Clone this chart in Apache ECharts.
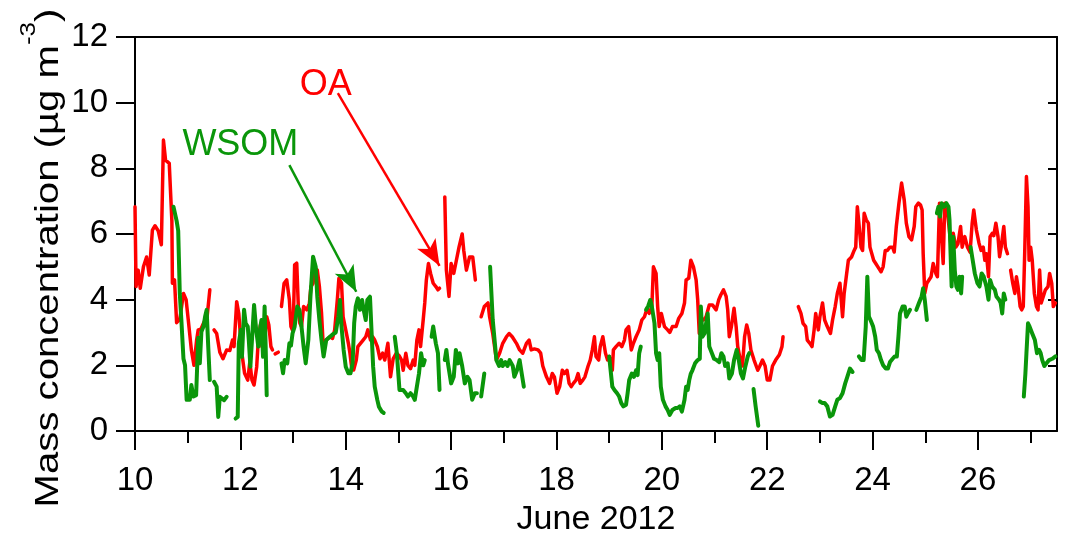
<!DOCTYPE html>
<html>
<head>
<meta charset="utf-8">
<script src="https://cdn.jsdelivr.net/npm/echarts@6/dist/echarts.min.js"></script>
<style>html,body{margin:0;padding:0;background:#fff;}#c{width:1065px;height:536px;}</style>
</head>
<body>
<div id="c"></div>
<script>
// ---- data (day of June 2012, mass concentration µg m-3); null = gap ----
const oaData = [
[10.00,6.83],[10.02,4.4],[10.06,4.9],[10.10,4.35],[10.16,5.0],[10.22,5.3],[10.27,4.75],[10.33,6.12],[10.38,6.25],[10.44,6.1],[10.50,5.67],[10.54,8.86],[10.58,8.25],[10.61,8.2],[10.65,8.15],[10.70,6.4],[10.71,4.5],[10.75,4.6],[10.79,3.3],[10.85,3.4],[10.92,4.19],[10.97,4.0],[11.01,3.4],[11.07,2.47],[11.12,2.0],[11.17,2.77],[11.20,3.08],[11.25,3.1],[11.30,3.28],[11.37,3.5],[11.42,4.3],null,
[11.50,3.08],[11.55,2.97],[11.61,2.4],[11.67,2.2],[11.74,2.47],[11.80,2.45],[11.85,2.77],[11.88,2.57],[11.93,3.94],[11.97,3.58],[12.02,2.47],[12.08,1.76],[12.14,1.55],[12.18,2.11],[12.22,1.55],[12.26,1.4],[12.31,1.96],[12.34,2.77],[12.38,3.23],[12.41,2.57],[12.45,2.6],[12.50,3.48],[12.54,3.23],[12.58,2.57],[12.61,2.47],null,
[12.66,2.35],[12.72,2.4],null,
[12.78,3.79],[12.83,4.5],[12.88,4.6],[12.93,4.0],[12.96,3.18],[12.99,3.07],[13.01,3.58],[13.03,5.06],[13.07,5.11],[13.10,3.79],[13.13,3.28],[13.16,3.18],[13.20,3.79],[13.26,3.69],[13.31,3.89],[13.34,4.4],[13.38,4.5],[13.41,4.97],[13.46,4.9],[13.50,4.4],[13.54,3.6],[13.57,2.67],[13.63,2.77],[13.70,2.87],[13.75,2.82],[13.79,3.08],[13.84,3.99],[13.87,4.65],[13.92,4.5],[13.95,3.48],[14.00,3.08],[14.05,2.67],[14.08,2.37],[14.11,1.96],[14.15,1.86],[14.20,2.16],[14.23,2.57],[14.28,2.67],[14.33,2.77],[14.38,2.87],[14.42,3.08],[14.47,2.77],[14.51,2.87],[14.55,2.77],[14.60,2.57],[14.65,2.2],[14.70,2.37],[14.74,2.16],[14.80,2.67],[14.85,1.65],[14.90,2.2],[14.96,2.37],[15.01,2.3],[15.06,2.16],[15.09,1.85],[15.14,2.37],[15.18,2.0],[15.23,1.9],[15.28,2.16],[15.31,2.0],[15.35,2.77],[15.39,3.08],[15.42,2.57],[15.47,3.38],[15.50,3.9],[15.53,4.6],[15.57,5.1],[15.61,4.8],[15.66,4.5],[15.71,4.4],[15.75,4.3],[15.78,4.35],null,
[15.88,7.13],[15.91,4.9],[15.96,4.1],[16.00,5.1],[16.05,4.8],[16.10,5.2],[16.15,5.6],[16.21,6.0],[16.24,5.5],[16.29,4.9],[16.35,5.3],[16.41,5.3],[16.46,4.6],null,
[16.57,3.48],[16.63,3.79],[16.70,3.9],[16.73,3.48],[16.79,2.97],[16.86,2.16],[16.92,2.37],[16.98,2.67],[17.05,2.87],[17.10,2.97],[17.16,2.87],[17.24,2.67],[17.30,2.47],[17.36,2.37],[17.43,2.67],[17.48,2.77],[17.52,2.47],[17.58,2.5],[17.65,2.47],[17.70,2.37],[17.74,1.98],[17.81,1.65],[17.87,1.45],[17.92,1.75],[17.96,1.65],[18.01,1.15],[18.06,1.35],[18.11,1.85],[18.15,1.75],[18.20,1.85],[18.24,1.45],[18.28,1.35],[18.32,1.45],[18.37,1.55],[18.41,1.75],[18.45,1.45],[18.50,1.55],[18.54,1.65],[18.60,1.98],[18.64,2.16],[18.68,2.47],[18.72,2.87],[18.75,2.27],[18.80,2.16],[18.83,2.57],[18.88,2.87],[18.93,2.37],[18.97,2.16],[19.00,2.27],[19.06,1.85],[19.08,2.47],[19.13,2.57],[19.19,2.67],[19.24,2.57],[19.29,2.77],[19.32,3.08],[19.37,3.18],[19.42,2.47],[19.46,2.67],[19.51,2.87],[19.57,3.08],[19.62,3.38],[19.67,3.48],[19.72,3.74],[19.76,3.58],[19.81,3.79],[19.84,5.0],[19.89,4.8],[19.92,3.79],[19.95,3.18],[19.99,3.58],[20.05,3.18],[20.11,3.08],[20.15,3.0],[20.20,3.18],[20.27,3.18],[20.32,3.43],[20.38,3.58],[20.43,3.9],[20.46,4.6],[20.51,4.65],[20.55,5.2],[20.60,5.0],[20.65,4.6],[20.68,4.0],[20.71,2.97],[20.74,3.38],[20.79,3.38],[20.84,3.48],[20.90,3.84],[20.96,3.84],[21.03,3.69],[21.08,4.0],[21.12,4.15],[21.17,4.3],[21.22,4.1],[21.25,3.69],[21.28,2.87],[21.32,3.18],[21.37,3.74],[21.41,3.18],[21.44,2.57],[21.49,2.16],[21.53,1.98],[21.57,2.87],[21.61,3.23],[21.65,2.97],[21.69,2.47],[21.75,2.16],[21.82,1.85],[21.86,1.98],[21.91,2.16],[21.96,1.98],[22.00,1.55],[22.05,1.55],[22.10,1.98],[22.16,2.16],[22.23,2.32],[22.28,2.57],[22.30,2.87],null,
[22.59,3.79],[22.64,3.58],[22.68,3.28],[22.73,3.18],[22.76,2.77],[22.81,2.67],[22.85,2.57],[22.89,3.08],[22.92,3.58],[22.97,3.08],[23.00,3.48],[23.05,3.9],[23.09,3.38],[23.14,3.18],[23.20,2.97],[23.24,3.38],[23.29,3.79],[23.33,4.19],[23.38,4.5],[23.43,3.48],[23.46,4.19],[23.50,4.7],[23.54,5.2],[23.60,5.3],[23.65,5.5],[23.68,5.6],[23.71,6.83],[23.74,6.33],[23.78,5.6],[23.81,5.5],[23.84,6.63],[23.88,6.43],[23.92,6.33],[23.95,5.6],[23.98,5.6],[24.02,5.2],[24.06,5.1],[24.10,5.0],[24.16,4.85],[24.20,5.0],[24.24,5.5],[24.28,5.5],[24.33,5.6],[24.38,5.6],[24.41,5.45],[24.45,6.23],[24.50,6.94],[24.55,7.55],[24.60,7.04],[24.64,6.33],[24.69,5.92],[24.74,5.82],[24.79,6.23],[24.82,6.83],[24.87,6.94],[24.91,6.88],[24.94,6.73],[24.96,5.4],[24.99,4.19],[25.03,4.5],[25.07,4.6],[25.11,4.7],[25.15,5.1],[25.20,4.8],[25.23,4.7],[25.27,6.94],[25.30,6.94],[25.34,5.1],[25.37,6.94],[25.41,6.83],[25.45,6.23],[25.49,5.6],[25.53,6.02],[25.58,5.6],[25.62,5.7],[25.67,6.23],[25.70,5.6],[25.75,5.92],[25.80,5.6],[25.85,5.45],[25.89,6.33],[25.92,6.73],[25.97,6.12],[26.02,5.72],[26.06,5.5],[26.10,5.6],[26.13,5.2],[26.16,5.4],[26.20,4.7],[26.23,5.92],[26.27,6.02],[26.30,5.95],[26.34,6.33],[26.38,5.92],[26.41,5.31],[26.44,5.6],[26.49,6.23],[26.52,5.6],[26.56,5.4],null,
[26.62,4.9],[26.66,4.5],[26.70,4.19],[26.73,4.7],[26.76,4.4],[26.80,3.79],[26.83,3.69],[26.86,3.79],[26.89,5.6],[26.92,7.75],[26.95,6.83],[26.97,5.2],[27.00,5.6],[27.03,5.2],[27.07,4.19],[27.11,3.79],[27.14,3.69],[27.17,4.9],[27.20,3.9],[27.24,4.1],[27.28,4.3],[27.33,4.4],[27.36,4.8],[27.40,4.5],[27.43,3.79],[27.47,3.9]
];
const wsomData = [
[10.73,6.83],[10.79,6.4],[10.82,6.1],[10.85,4.19],[10.88,3.38],[10.92,2.2],[10.95,2.0],[10.98,0.95],[11.04,0.95],[11.07,1.4],[11.11,1.05],[11.16,1.09],[11.20,2.84],[11.23,2.06],[11.26,3.02],[11.30,3.18],[11.33,3.48],[11.36,3.69],[11.39,2.57],[11.42,1.55],null,
[11.50,1.5],[11.55,1.35],[11.58,0.43],[11.61,1.04],[11.64,0.99],[11.69,0.94],[11.74,1.04],null,
[11.91,0.38],[11.95,0.43],[11.97,2.67],[12.01,3.08],[12.03,2.26],[12.07,3.69],[12.10,3.28],[12.14,3.18],[12.16,2.77],[12.19,1.96],[12.22,2.77],[12.26,3.84],[12.30,3.08],[12.34,2.57],[12.38,3.18],[12.40,3.38],[12.43,2.26],[12.46,3.79],[12.48,2.57],[12.50,1.09],null,
[12.78,2.06],[12.81,1.76],[12.84,2.16],[12.89,2.06],[12.93,2.67],[12.96,2.6],[12.99,2.97],[13.03,3.18],[13.08,3.79],[13.12,3.69],[13.16,3.18],[13.20,2.57],[13.24,2.06],[13.29,2.77],[13.33,4.09],[13.38,5.31],[13.43,5.0],[13.46,4.09],[13.50,3.38],[13.54,2.77],[13.58,2.27],[13.63,2.77],[13.70,2.87],[13.76,2.95],[13.81,3.0],[13.86,3.48],[13.89,3.99],[13.92,3.18],[13.96,2.47],[14.00,1.96],[14.05,1.76],[14.09,1.76],[14.13,2.06],[14.16,3.28],[14.19,3.79],[14.23,4.04],[14.27,3.69],[14.31,3.99],[14.34,3.69],[14.38,3.38],[14.41,3.99],[14.46,4.09],[14.49,4.09],[14.52,1.96],[14.55,1.35],[14.60,0.94],[14.63,0.74],[14.68,0.6],[14.72,0.55],null,
[14.93,2.87],[14.97,2.37],[15.02,1.25],[15.09,1.25],[15.14,1.15],[15.18,1.05],[15.23,1.15],[15.28,1.05],[15.31,0.95],[15.35,1.35],[15.39,1.75],[15.43,2.37],[15.47,2.0],[15.50,2.16],null,
[15.63,2.87],[15.66,3.18],[15.71,2.67],[15.75,2.37],[15.78,1.25],null,
[15.88,2.16],[15.91,2.47],[15.94,2.06],[16.00,1.45],[16.05,1.65],[16.09,2.47],[16.13,2.06],[16.16,2.37],[16.21,1.98],[16.26,1.45],[16.31,1.65],[16.35,1.55],[16.40,0.95],[16.45,1.15],[16.49,1.15],null,
[16.57,1.05],[16.63,1.75],null,
[16.74,5.0],[16.79,3.38],[16.86,2.16],[16.91,1.98],[16.95,2.16],[16.98,1.98],[17.03,2.1],[17.07,1.98],[17.11,2.16],[17.17,1.98],[17.20,1.65],[17.25,1.85],[17.30,2.16],[17.34,1.75],[17.38,1.35],null,
[19.00,2.27],[19.06,1.35],[19.10,1.25],[19.15,1.15],[19.19,1.05],[19.23,0.85],[19.27,0.75],[19.32,0.8],[19.35,1.15],[19.38,1.55],[19.43,1.75],[19.47,1.65],[19.51,1.85],[19.54,1.7],[19.57,2.37],[19.60,2.57],null,
[19.70,3.69],[19.74,3.8],[19.78,3.99],[19.81,3.79],[19.86,3.28],[19.89,2.37],[19.92,2.16],[19.95,2.37],[19.98,1.35],[20.02,0.95],[20.07,0.75],[20.11,0.64],[20.15,0.49],[20.20,0.64],[20.26,0.7],[20.30,0.7],[20.34,0.75],[20.38,0.59],[20.43,0.95],[20.46,1.35],[20.49,1.25],[20.52,1.55],[20.55,1.75],[20.58,1.85],[20.63,2.06],[20.68,2.16],[20.72,2.2],[20.74,3.79],[20.77,2.87],[20.81,2.97],[20.84,3.28],[20.87,3.58],[20.90,2.57],[20.95,2.37],[20.99,2.2],[21.04,2.16],[21.09,2.1],[21.13,2.37],[21.17,2.27],[21.20,1.98],[21.25,2.06],[21.28,1.6],[21.33,1.75],[21.37,2.16],[21.42,2.47],[21.46,2.16],[21.50,1.75],[21.54,1.6],[21.58,1.93],[21.63,2.27],[21.66,2.37],null,
[21.74,1.28],[21.78,0.75],[21.83,0.16],null,
[23.00,0.9],[23.05,0.85],[23.09,0.85],[23.14,0.75],[23.19,0.44],[23.24,0.49],[23.29,0.75],[23.33,0.95],[23.38,1.0],[23.43,1.15],[23.48,1.45],[23.52,1.65],[23.57,1.9],[23.62,1.8],null,
[23.74,2.27],[23.79,2.16],[23.83,2.16],[23.87,3.18],[23.90,4.7],[23.93,3.48],[23.96,3.38],[24.01,3.18],[24.05,2.87],[24.08,2.47],[24.12,2.37],[24.16,2.16],[24.20,2.0],[24.25,1.9],[24.29,1.9],[24.33,2.1],[24.38,2.2],[24.42,2.27],[24.46,2.27],[24.49,2.87],[24.52,3.58],[24.57,3.79],[24.61,3.79],[24.64,3.48],[24.67,3.58],[24.71,3.69],null,
[24.83,3.69],[24.88,3.9],[24.93,4.1],[24.96,4.35],[24.99,4.0],[25.03,3.38],null,
[25.22,6.63],[25.25,6.83],[25.28,6.53],[25.31,6.94],[25.36,6.83],[25.40,6.94],[25.44,6.83],[25.46,6.43],[25.48,5.4],[25.50,4.4],[25.53,5.92],[25.56,4.9],[25.59,4.4],[25.62,4.3],[25.65,4.7],[25.68,4.19],[25.70,4.7],null,
[25.86,5.6],[25.90,5.2],[25.94,4.8],[25.99,4.5],[26.03,4.4],[26.07,4.8],[26.11,4.7],[26.16,4.4],[26.20,4.0],[26.23,4.6],[26.27,4.4],[26.32,4.3],[26.35,4.1],[26.40,4.0],[26.43,3.9],[26.46,3.58],[26.49,4.19],[26.52,4.0],null,
[26.87,1.05],[26.90,1.75],[26.92,2.37],[26.95,3.28],[26.98,3.18],[27.03,2.97],[27.08,2.77],[27.12,2.37],[27.16,2.47],[27.19,2.37],[27.22,2.16],[27.26,1.98],[27.30,2.06],[27.35,2.16],[27.41,2.2],[27.47,2.27]
];
const xMajorTicks = [10, 12, 14, 16, 18, 20, 22, 24, 26];
const xMinorTicks = [11, 13, 15, 17, 19, 21, 23, 25, 27];
const xTitle = 'June 2012';
const yTitle = 'Mass concentration (µg m';
const seriesNames = ['OA', 'WSOM'];
// annotation anchors in data coordinates [day, value]
const oaLabelAt = [13.62, 10.55];
const wsomLabelAt = [12.0, 8.7];
const oaArrow = [[13.85, 10.29], [15.78, 5.03]];
const wsomArrow = [[12.93, 8.1], [14.20, 4.24]];

function withGaps(arr) {
  return arr.map((p, i) => p === null ? [arr[i - 1][0], '-'] : p);
}

const FONT = '"Liberation Sans", Arial, Helvetica, sans-serif';
const RED = '#ff0000';
const GREEN = '#0a960a';

const chart = echarts.init(document.getElementById('c'), null, {renderer: 'canvas'});
const axisLineStyle = {color: '#000', width: 2};

function annotation(color, labelAt, text, arrow, arrowWidth) {
  return {
    markPoint: {
      silent: true,
      symbol: 'circle', symbolSize: 1,
      itemStyle: {color: 'rgba(0,0,0,0)'},
      label: {show: true, position: 'inside', formatter: text, color: color, fontSize: 36, fontFamily: FONT},
      data: [{coord: labelAt}]
    },
    markLine: {
      silent: true,
      symbol: ['none', 'arrow'],
      symbolSize: [16, 26],
      label: {show: false},
      lineStyle: {color: color, width: arrowWidth, type: 'solid'},
      emphasis: {disabled: true},
      data: [[{coord: arrow[0]}, {coord: arrow[1]}]]
    }
  };
}

chart.setOption({
  animation: false,
  backgroundColor: '#fff',
  textStyle: {fontFamily: FONT},
  grid: {left: 135, right: 8, top: 37, bottom: 105, containLabel: false, outerBoundsMode: 'none'},
  xAxis: [
    {
      type: 'value', position: 'bottom', min: 10, max: 27.5,
      axisLine: {show: true, lineStyle: axisLineStyle},
      axisTick: {show: true, customValues: xMajorTicks, length: 19, inside: false, lineStyle: {color: '#000', width: 2}},
      axisLabel: {show: true, customValues: xMajorTicks, fontSize: 33, color: '#000', margin: 33, fontFamily: FONT},
      splitLine: {show: false},
      name: xTitle, nameLocation: 'middle', nameGap: 72,
      nameTextStyle: {fontSize: 34, color: '#000', fontFamily: FONT}
    },
    {
      type: 'value', position: 'bottom', min: 10, max: 27.5,
      axisLine: {show: false},
      axisTick: {show: true, customValues: xMinorTicks, length: 12, inside: false, lineStyle: {color: '#000', width: 2}},
      axisLabel: {show: false},
      splitLine: {show: false}
    },
    {
      type: 'value', position: 'top', min: 10, max: 27.5,
      axisLine: {show: true, lineStyle: axisLineStyle},
      axisTick: {show: false}, axisLabel: {show: false}, splitLine: {show: false}
    }
  ],
  yAxis: [
    {
      type: 'value', position: 'left', min: 0, max: 12, interval: 2,
      axisLine: {show: true, lineStyle: axisLineStyle},
      axisTick: {show: true, length: 19, inside: false, lineStyle: {color: '#000', width: 2}},
      axisLabel: {show: true, fontSize: 33, color: '#000', margin: 27, fontFamily: FONT},
      splitLine: {show: false}
    },
    {
      type: 'value', position: 'right', min: 0, max: 12, interval: 2,
      axisLine: {show: true, lineStyle: axisLineStyle},
      axisTick: {show: true, length: 9, inside: true, lineStyle: {color: '#000', width: 2}},
      axisLabel: {show: false}, splitLine: {show: false}
    }
  ],
  graphic: [{
    type: 'text',
    x: 42, y: 258,
    rotation: Math.PI / 2,
    scaleX: 1.18,
    silent: true,
    style: {
      text: '{a|' + yTitle + '}{s|-3}{a|)}',
      align: 'center', verticalAlign: 'middle',
      fill: '#000',
      rich: {
        a: {fontSize: 34, fontFamily: FONT, fill: '#000', lineHeight: 48, verticalAlign: 'bottom'},
        s: {fontSize: 22, fontFamily: FONT, fill: '#000', lineHeight: 22, verticalAlign: 'top'}
      }
    }
  }],
  series: [
    Object.assign({
      name: seriesNames[0], type: 'line', xAxisIndex: 0, yAxisIndex: 0,
      data: withGaps(oaData), showSymbol: false, connectNulls: false,
      lineStyle: {color: RED, width: 3.5, join: 'round', cap: 'round'}, itemStyle: {color: RED}, z: 2
    }, annotation(RED, oaLabelAt, seriesNames[0], oaArrow, 2.5)),
    Object.assign({
      name: seriesNames[1], type: 'line', xAxisIndex: 0, yAxisIndex: 0,
      data: withGaps(wsomData), showSymbol: false, connectNulls: false,
      lineStyle: {color: GREEN, width: 4, join: 'round', cap: 'round'}, itemStyle: {color: GREEN}, z: 3
    }, annotation(GREEN, wsomLabelAt, seriesNames[1], wsomArrow, 2.5))
  ]
});
</script>
</body>
</html>
